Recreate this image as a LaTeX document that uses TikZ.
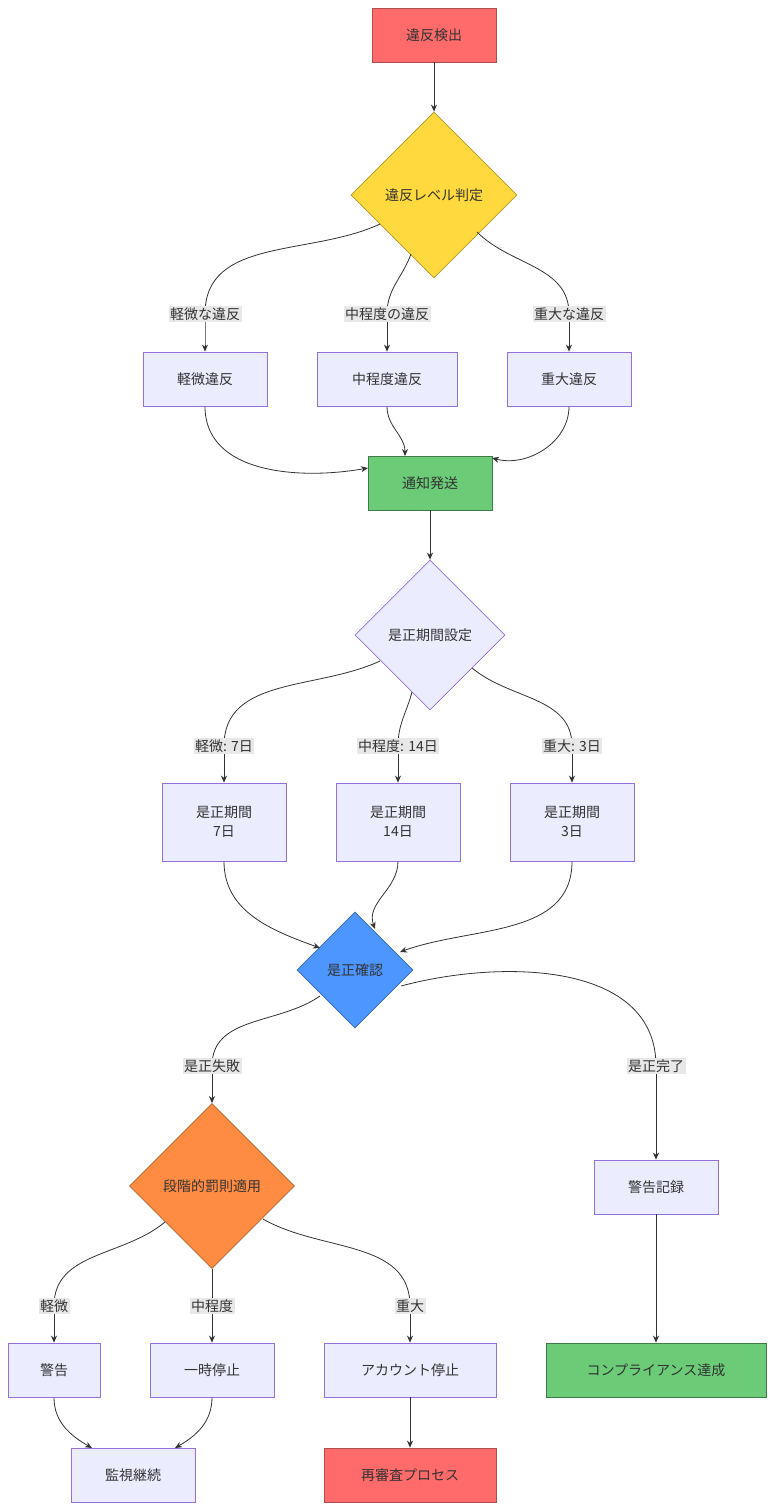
\documentclass[tikz,border=0pt]{standalone}
\usepackage{fontspec}
\setmainfont{Noto Sans CJK JP}
\usetikzlibrary{shapes.geometric,arrows.meta}
\definecolor{lav}{HTML}{ECECFF}
\definecolor{lavb}{HTML}{9370DB}
\definecolor{redf}{HTML}{FF6B6B}
\definecolor{yelf}{HTML}{FFD93D}
\definecolor{grnf}{HTML}{6BCB77}
\definecolor{bluf}{HTML}{4D96FF}
\definecolor{orgf}{HTML}{FF8C42}
\definecolor{lblf}{HTML}{E8E8E8}
\definecolor{txt}{HTML}{333333}
\begin{document}
\begin{tikzpicture}[x=1pt,y=-1pt,
  every node/.style={font=\fontsize{14}{19}\selectfont, text=txt},
  box/.style={draw=lavb, fill=lav, line width=0.8pt, minimum height=54pt, inner sep=0pt},
  dia/.style={diamond, draw=lavb, fill=lav, line width=0.8pt, inner sep=0pt, aspect=1},
  lbl/.style={fill=lblf, inner sep=1.5pt},
  arr/.style={draw=txt, line width=0.8pt, -{Stealth[length=7pt,width=6pt]}},
  ln/.style={draw=txt, line width=0.8pt}]
\useasboundingbox[fill=white] (0,0) rectangle (774,1510);
% nodes
\node[box, fill=redf, draw=redf!70!black, minimum width=124pt] (a) at (434,35) {違反検出};
\node[dia, fill=yelf, draw=yelf!70!black, minimum width=166pt, minimum height=166pt] (b) at (434,195) {違反レベル判定};
\node[box, minimum width=124pt] (c1) at (205,379) {軽微違反};
\node[box, minimum width=140pt] (c2) at (387,379) {中程度違反};
\node[box, minimum width=124pt] (c3) at (569,379) {重大違反};
\node[box, fill=grnf, draw=grnf!60!black, minimum width=124pt] (d) at (430,483) {通知発送};
\node[dia, minimum width=150pt, minimum height=150pt] (e) at (430,635) {是正期間設定};
\node[box, minimum width=124pt, minimum height=78pt, align=center] (f1) at (224,822) {是正期間\\7日};
\node[box, minimum width=124pt, minimum height=78pt, align=center] (f2) at (398,822) {是正期間\\14日};
\node[box, minimum width=124pt, minimum height=78pt, align=center] (f3) at (572,822) {是正期間\\3日};
\node[dia, fill=bluf, draw=bluf!70!black, minimum width=116pt, minimum height=116pt] (g) at (355,970) {是正確認};
\node[dia, fill=orgf, draw=orgf!70!black, minimum width=165pt, minimum height=165pt] (h) at (212,1186) {段階的罰則適用};
\node[box, minimum width=124pt] (k) at (656,1187) {警告記録};
\node[box, minimum width=92pt] (i1) at (54,1370) {警告};
\node[box, minimum width=124pt] (i2) at (212,1370) {一時停止};
\node[box, minimum width=172pt] (i3) at (410,1370) {アカウント停止};
\node[box, fill=grnf, draw=grnf!60!black, minimum width=220pt] (m) at (656,1370) {コンプライアンス達成};
\node[box, minimum width=124pt] (j) at (133,1475) {監視継続};
\node[box, fill=redf, draw=redf!70!black, minimum width=172pt] (n) at (410,1475) {再審査プロセス};
% coordinates
\coordinate (l1) at (205,314); \coordinate (l2) at (387,314); \coordinate (l3) at (569,314);
\coordinate (p1) at (224,746); \coordinate (p2) at (398,746); \coordinate (p3) at (572,746);
\coordinate (q1) at (212,1066); \coordinate (q2) at (656,1066);
\coordinate (r1) at (54,1306); \coordinate (r2) at (212,1306); \coordinate (r3) at (410,1306);
% edges
\draw[arr] (a) -- (b);
\draw[ln] (380,224) to[out=205,in=90] (l1); \draw[arr] (l1) to[out=-90,in=90] (c1);
\draw[ln] (411,254) to[out=250,in=90] (l2); \draw[arr] (l2) -- (c2);
\draw[ln] (477,232) to[out=-45,in=90] (l3); \draw[arr] (l3) -- (c3);
\draw[arr] (c1.south) to[out=-90,in=190] (368,468);
\draw[arr] (c2.south) to[out=-90,in=90] (405,456);
\draw[arr] (c3.south) to[out=-90,in=-15] (492,458);
\draw[arr] (d) -- (e);
\draw[ln] (380,661) to[out=205,in=90] (p1); \draw[arr] (p1) -- (f1);
\draw[ln] (412,692) to[out=255,in=90] (p2); \draw[arr] (p2) -- (f2);
\draw[ln] (472,668) to[out=-40,in=90] (p3); \draw[arr] (p3) -- (f3);
\draw[arr] (f1.south) to[out=-90,in=160] (320,948);
\draw[arr] (f2.south) to[out=-90,in=110] (375,929);
\draw[arr] (f3.south) to[out=-90,in=20] (400,952);
\draw[ln] (320,996) to[out=215,in=90] (q1); \draw[arr] (q1) -- (h);
\draw[ln] (401,986) to[out=15,in=90] (q2); \draw[arr] (q2) -- (k);
\draw[ln] (165,1222) to[out=220,in=90] (r1); \draw[arr] (r1) -- (i1);
\draw[ln] (h.south) -- (r2); \draw[arr] (r2) -- (i2);
\draw[ln] (263,1219) to[out=-30,in=90] (r3); \draw[arr] (r3) -- (i3);
\draw[arr] (i1.south) to[out=-90,in=150] (92,1448);
\draw[arr] (i2.south) to[out=-90,in=30] (175,1448);
\draw[arr] (i3) -- (n);
\draw[arr] (k) -- (m);
% labels
\node[lbl] at (l1) {軽微な違反};
\node[lbl] at (l2) {中程度の違反};
\node[lbl] at (l3) {重大な違反};
\node[lbl] at (p1) {軽微: 7日};
\node[lbl] at (p2) {中程度: 14日};
\node[lbl] at (p3) {重大: 3日};
\node[lbl] at (q1) {是正失敗};
\node[lbl] at (q2) {是正完了};
\node[lbl] at (r1) {軽微};
\node[lbl] at (r2) {中程度};
\node[lbl] at (r3) {重大};
\end{tikzpicture}
\end{document}
